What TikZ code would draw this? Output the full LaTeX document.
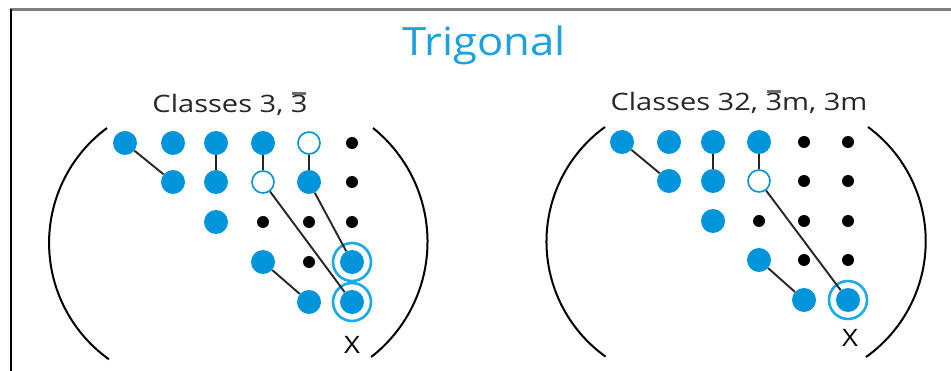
\documentclass[tikz,border=0pt]{standalone}
\usepackage{fontspec}
\setmainfont{Open Sans}
\definecolor{dotblue}{RGB}{0,149,218}
\definecolor{ringblue}{RGB}{26,170,236}
\definecolor{titleblue}{RGB}{27,161,226}
\definecolor{framegray}{RGB}{128,128,128}
\definecolor{bargray}{RGB}{110,110,110}
% digit with an overbar (rotoinversion symbol)
\newcommand\invbar[1]{\ooalign{#1\cr\hidewidth\raisebox{0.74em}{\color{bargray}\rule{0.5em}{0.12em}}\hidewidth}}
\begin{document}
\begin{tikzpicture}[x=1pt,y=-1pt,
  big/.style={circle,fill=dotblue,inner sep=0pt,minimum size=24pt},
  hollow/.style={circle,draw=dotblue,fill=white,line width=1.6pt,inner sep=0pt,minimum size=22pt},
  small/.style={circle,fill=black,inner sep=0pt,minimum size=12pt},
  ringline/.style={draw=ringblue,line width=2.6pt},
  link/.style={draw=black!85,line width=1.9pt},
  bracket/.style={draw=black,line width=2pt},
  classlabel/.style={font=\fontsize{24}{28}\selectfont,text=black!85,inner sep=0pt,xscale=1.21},
  axislabel/.style={font=\fontsize{24}{28}\selectfont,inner sep=0pt,xscale=1.15}]
\useasboundingbox (0,0) rectangle (951,371);
\fill[white] (0,0) rectangle (951,371);
% frame
\draw[framegray,line width=3pt] (10,10) -- (951,10);
\draw[black,line width=2pt] (11,9) -- (11,371);
% title
\node[font=\fontsize{39}{44}\selectfont,text=titleblue,inner sep=0pt,xscale=1.12] (title) at (484,45) {Trigonal};

% ---------- left stereogram: classes 3, -3 ----------
\node[classlabel] (lcls) at (230,105) {Classes 3, \invbar{3}};
\draw[bracket] (107,128) arc[start angle=126.5,end angle=234.5,radius=143pt];
\draw[bracket] (373,128) arc[start angle=51.2,end angle=-52.1,radius=146pt];
\node[big]    (l00) at (125,143) {};
\node[big]    (l01) at (173,143) {};
\node[big]    (l02) at (216,143) {};
\node[big]    (l03) at (263,143) {};
\node[hollow] (l04) at (309,143) {};
\node[small]  (l05) at (352,143) {};
\node[big]    (l11) at (173,182) {};
\node[big]    (l12) at (216,182) {};
\node[hollow] (l13) at (263,182) {};
\node[big]    (l14) at (309,182) {};
\node[small]  (l15) at (352,182) {};
\node[big]    (l22) at (216,222) {};
\node[small]  (l23) at (263,222) {};
\node[small]  (l24) at (309,222) {};
\node[small]  (l25) at (352,222) {};
\node[big]    (l33) at (263,262) {};
\node[small]  (l34) at (309,262) {};
\node[big]    (l35) at (352,262) {};
\node[big]    (l44) at (309,302) {};
\node[big]    (l45) at (352,302) {};
\draw[ringline] (l35.center) circle (19pt);
\draw[ringline] (l45.center) circle (19pt);
\draw[link] (l00) -- (l11);
\draw[link] (l02) -- (l12);
\draw[link] (l03) -- (l13);
\draw[link] (l04) -- (l14);
\draw[link] (l13) -- (l45);
\draw[link] (l14) -- (l35);
\draw[link] (l33) -- (l44);
\node[axislabel] (lx) at (352,345) {X};

% ---------- right stereogram: classes 32, -3m, 3m ----------
\node[classlabel] (rcls) at (739,103) {Classes 32, \invbar{3}m, 3m};
\draw[bracket] (605,127) arc[start angle=125.9,end angle=234.4,radius=141.5pt];
\draw[bracket] (868,127) arc[start angle=53.6,end angle=-54.6,radius=142pt];
\node[big]    (r00) at (622,142) {};
\node[big]    (r01) at (669,142) {};
\node[big]    (r02) at (713,142) {};
\node[big]    (r03) at (759,142) {};
\node[small]  (r04) at (804,142) {};
\node[small]  (r05) at (848,142) {};
\node[big]    (r11) at (669,181) {};
\node[big]    (r12) at (713,181) {};
\node[hollow] (r13) at (759,181) {};
\node[small]  (r14) at (804,181) {};
\node[small]  (r15) at (848,181) {};
\node[big]    (r22) at (713,221) {};
\node[small]  (r23) at (759,221) {};
\node[small]  (r24) at (804,221) {};
\node[small]  (r25) at (848,221) {};
\node[big]    (r33) at (759,260) {};
\node[small]  (r34) at (804,260) {};
\node[small]  (r35) at (848,260) {};
\node[big]    (r44) at (804,300) {};
\node[big]    (r45) at (848,300) {};
\draw[ringline] (r45.center) circle (19pt);
\draw[link] (r00) -- (r11);
\draw[link] (r02) -- (r12);
\draw[link] (r03) -- (r13);
\draw[link] (r13) -- (r45);
\draw[link] (r33) -- (r44);
\node[axislabel] (rx) at (850,338) {X};
\end{tikzpicture}
\end{document}
